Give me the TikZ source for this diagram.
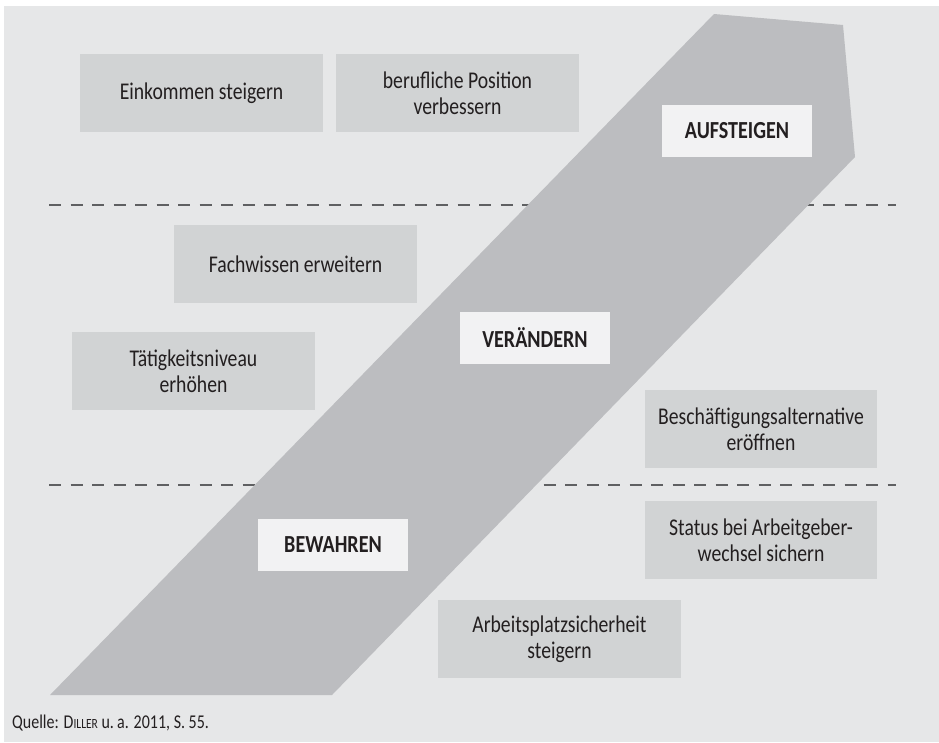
\documentclass[tikz,border=0pt]{standalone}
\usepackage{fontspec}
\setmainfont[FakeStretch=0.82]{Carlito}
\usepackage{tikz}
\definecolor{hgrau}{HTML}{E6E7E8}
\definecolor{pfeilgrau}{HTML}{BCBDC0}
\definecolor{boxgrau}{HTML}{D1D3D4}
\definecolor{stufeweiss}{HTML}{F2F2F3}
\definecolor{strich}{HTML}{5F6062}
\definecolor{schrift}{HTML}{231F20}
\tikzset{
ziel/.style={fill=boxgrau,inner sep=0pt,minimum width=243pt,minimum height=78pt,align=center,text=schrift,font=\fontsize{24}{26}\selectfont},
stufe/.style={fill=stufeweiss,inner sep=0pt,minimum width=150pt,minimum height=52pt,text=schrift,font=\fontsize{24.5}{26}\selectfont\bfseries},
grenze/.style={strich,line width=2pt,dash pattern=on 12pt off 9.5pt}}

\begin{document}
\begin{tikzpicture}[x=1pt,y=-1pt]

\useasboundingbox (0,0) rectangle (939,742);
\fill[hgrau] (4,6) rectangle (939,742);

% Trennlinien
\coordinate (o1) at (49,205);
\coordinate (o2) at (896,205);
\coordinate (u1) at (49,485);
\coordinate (u2) at (896,485);
\draw[grenze] (o1) -- (o2);
\draw[grenze] (u1) -- (u2);

% Band
\fill[pfeilgrau] (714,14) -- (843,25) -- (855,157) -- (332,695) -- (50,695) -- cycle;

\node[ziel] (einkommen) at (201.5,93) {Einkommen steigern};
\node[ziel] (position) at (457.5,93) {berufliche Position\\verbessern};
\node[ziel] (fachwissen) at (295.5,264) {Fachwissen erweitern};
\node[ziel] (taetigkeit) at (193.5,371) {Tätigkeitsniveau\\erhöhen};
\node[ziel,minimum width=232pt] (alternative) at (761,429) {Beschäftigungsalternative\\eröffnen};
\node[ziel,minimum width=232pt] (status) at (761,540) {Status bei Arbeitgeber-\\wechsel sichern};
\node[ziel] (sicherheit) at (559.5,639) {Arbeitsplatzsicherheit\\steigern};

\node[stufe] (aufsteigen) at (737,131) {AUFSTEIGEN};
\node[stufe] (veraendern) at (535,338) {VERÄNDERN};
\node[stufe] (bewahren) at (333,545) {BEWAHREN};

\node[anchor=base west,inner sep=0pt,text=schrift,font=\fontsize{19.5}{21}\selectfont] (quelle) at (12,728)
  {Quelle: D{\fontsize{14}{15}\selectfont ILLER} u.\,a. 2011, S.~55.};

\end{tikzpicture}
\end{document}
